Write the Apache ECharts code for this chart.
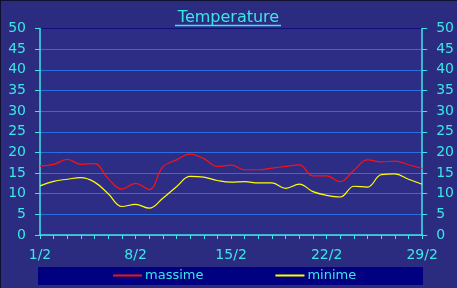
<!DOCTYPE html>
<html>
<head>
<meta charset="utf-8">
<script src="https://cdn.jsdelivr.net/npm/echarts@6/dist/echarts.min.js"></script>
<style>
html,body{margin:0;padding:0;background:#2b2b80;}
#c{width:457px;height:288px;}
</style>
</head>
<body>
<div id="c"></div>
<script>
var days = ["1/2","2/2","3/2","4/2","5/2","6/2","7/2","8/2","9/2","10/2","11/2","12/2","13/2","14/2","15/2","16/2","17/2","18/2","19/2","20/2","21/2","22/2","23/2","24/2","25/2","26/2","27/2","28/2","29/2"];
var massime = [16.7,17.1,18.3,17.1,17.3,13.6,11.1,12.5,11.0,16.5,18.2,19.6,18.5,16.6,16.9,15.8,15.8,16.2,16.6,17.0,14.3,14.3,12.9,15.7,18.2,17.7,17.9,17.0,16.1];
var minime = [11.9,13.0,13.5,13.9,12.8,10.0,6.9,7.4,6.5,8.9,11.7,14.2,14.0,13.2,12.8,12.9,12.6,12.6,11.3,12.3,10.5,9.6,9.2,11.8,11.6,14.6,14.8,13.5,12.3];
var seriesNames = ["massime","minime"];
var yTicks = {min:0, max:50, step:5};

var cyan = '#3ce6e6';
var font = 'DejaVu Sans';
var gridColors = [];
for (var i = 0; i <= 10; i++) gridColors.push(i === 10 ? '#10107a' : '#2a6ee0');

var chart = echarts.init(document.getElementById('c'), null, {renderer:'canvas'});
chart.setOption({
  backgroundColor: '#2b2b80',
  animation: false,
  title: {
    text: 'Temperature',
    left: 'center',
    top: 5,
    textStyle: {color: cyan, fontFamily: font, fontSize: 16, fontWeight: 'normal'}
  },
  graphic: [
    {type:'line', shape:{x1:175,y1:25.5,x2:281,y2:25.5}, style:{stroke:cyan, lineWidth:1.5}, z:10},
    {type:'rect', shape:{x:38,y:267,width:385,height:18}, style:{fill:'#000080'}, z:0},
    {type:'line', shape:{x1:0,y1:0.5,x2:457,y2:0.5}, style:{stroke:'#101030', lineWidth:1}},
    {type:'line', shape:{x1:0.5,y1:0,x2:0.5,y2:288}, style:{stroke:'#101030', lineWidth:1}}
  ],
  legend: {
    left: 113,
    top: 269,
    icon: 'rect',
    itemWidth: 29,
    itemHeight: 2,
    itemGap: 72,
    padding: 0,
    textStyle: {color: cyan, fontFamily: font, fontSize: 13, padding:[0,0,0,-2]},
    data: seriesNames
  },
  grid: {left: 40, right: 34, top: 28.5, bottom: 53, show: true, backgroundColor: '#2d2d86', borderWidth: 0},
  xAxis: {
    type: 'category',
    data: days,
    boundaryGap: false,
    axisLine: {lineStyle: {color: cyan, width: 1.5}},
    axisTick: {show: true, interval: 0, length: 4, lineStyle:{color: cyan}},
    axisLabel: {interval: 6, color: cyan, fontFamily: font, fontSize: 14, margin: 13},
    splitLine: {show: false}
  },
  yAxis: [
    {
      type: 'value', min: yTicks.min, max: yTicks.max, interval: yTicks.step, position: 'left',
      axisLine: {show: true, lineStyle: {color: cyan, width: 1.5}},
      axisTick: {show: true, length: 5, lineStyle:{color: cyan}},
      axisLabel: {color: cyan, fontFamily: font, fontSize: 14, margin: 14},
      splitLine: {show: true, lineStyle: {color: gridColors, width: 1}}
    },
    {
      type: 'value', min: yTicks.min, max: yTicks.max, interval: yTicks.step, position: 'right',
      axisLine: {show: true, lineStyle: {color: cyan, width: 1.5}},
      axisTick: {show: true, length: 5, lineStyle:{color: cyan}},
      axisLabel: {color: cyan, fontFamily: font, fontSize: 14, margin: 14},
      splitLine: {show: false}
    }
  ],
  series: [
    {name: seriesNames[0], type: 'line', data: massime, smooth: 0.4, symbol: 'none', yAxisIndex: 0,
     lineStyle: {color: '#ff1010', width: 1.2}, itemStyle: {color: '#ff1010'}},
    {name: seriesNames[1], type: 'line', data: minime, smooth: 0.4, symbol: 'none', yAxisIndex: 0,
     lineStyle: {color: '#ffff00', width: 1.2}, itemStyle: {color: '#ffff00'}}
  ]
});
</script>
</body>
</html>
